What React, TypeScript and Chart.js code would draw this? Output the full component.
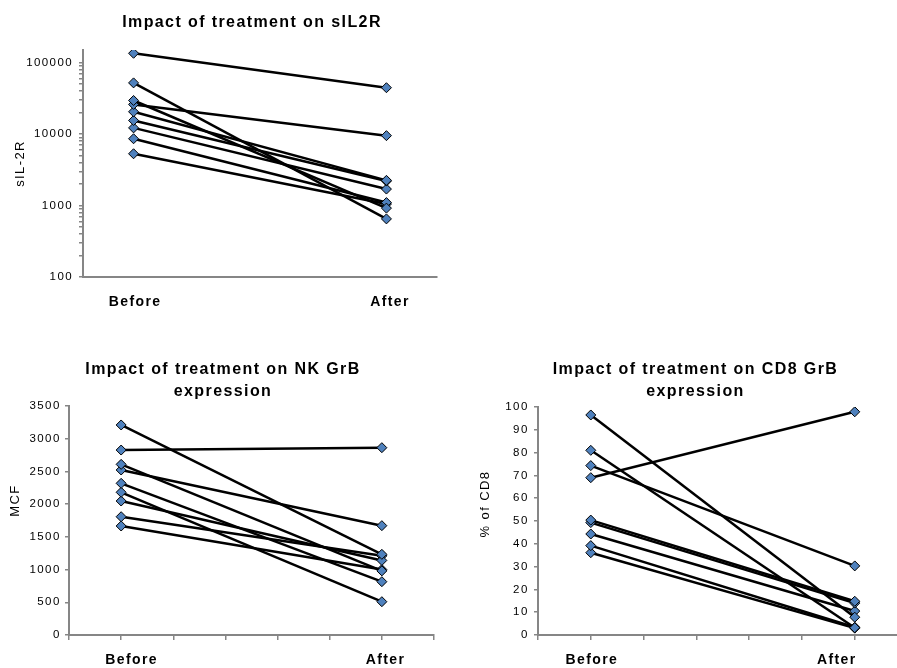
import React, { useEffect, useRef } from 'react';
import { Chart, registerables } from 'chart.js';

Chart.register(...registerables);

// ---------- data ----------
const categories = ['Before', 'After'];
const categoryX = [1, 6];

const sil2rBefore = [135000, 52000, 29500, 26000, 20500, 15500, 12200, 8600, 5300];
const sil2rAfter = [44500, 650, 920, 9500, 2250, 2200, 1700, 1100, 1050];

const nkBefore = [3210, 2827, 2608, 2522, 2318, 2181, 2048, 1808, 1666];
const nkAfter = [1233, 2863, 980, 1671, 815, 509, 1140, 1210, 1000];

const cd8Before = [96.5, 81, 74.3, 69, 50.4, 49.3, 44.3, 39.2, 36.1];
const cd8After = [7.8, 3.2, 30.3, 97.9, 14.8, 14, 10.5, 3.4, 3.0];

const sil2rMajorTicks = [100, 1000, 10000, 100000];
const sil2rMinorFactors = [1, 2, 3, 4, 5, 6, 7, 8, 9];
const nkTicks = [0, 500, 1000, 1500, 2000, 2500, 3000, 3500];
const cd8Ticks = [0, 10, 20, 30, 40, 50, 60, 70, 80, 90, 100];

// ---------- style ----------
const FONT = '"Liberation Sans", Arial, Helvetica, sans-serif';
const AXIS_GRAY = '#868686';
const MARKER_BLUE = '#4F81BD';

const spacingPlugin = {
  id: 'letterSpacingFix',
  beforeUpdate(chart: any) { chart.ctx.letterSpacing = '1.4px'; },
  beforeLayout(chart: any) { chart.ctx.letterSpacing = '1.4px'; },
  beforeDraw(chart: any) { chart.ctx.letterSpacing = '1.4px'; },
};

const yTitlePlugin = {
  id: 'yTitle',
  afterDraw(chart: any, _args: any, opts: any) {
    const { ctx, chartArea } = chart;
    ctx.save();
    ctx.font = `13px ${FONT}`;
    ctx.fillStyle = '#000';
    ctx.textAlign = 'center';
    ctx.textBaseline = 'middle';
    ctx.translate(opts.x, (chartArea.top + chartArea.bottom) / 2 + opts.dy);
    ctx.rotate(-Math.PI / 2);
    ctx.fillText(opts.text, 0, 0);
    ctx.restore();
  },
};

type Spec = {
  left: number; top: number; w: number; h: number;
  title: string | string[];
  titlePad: { top: number; bottom: number };
  yWidth: number; rightGap: number; xHeight: number;
  yType: 'linear' | 'logarithmic';
  yMin: number; yMax: number;
  yTicks: number[];
  yLabels: number[];
  yPad: number;
  xMax: number;
  xLabelPos: number[];
  showXTicks: boolean;
  yTitle: { text: string; x: number; dy: number };
  before: number[]; after: number[];
};

function buildLogTicks(): number[] {
  const out: number[] = [];
  sil2rMajorTicks.forEach((d) => sil2rMinorFactors.forEach((f) => out.push(d * f)));
  return out;
}

function makeChart(canvas: HTMLCanvasElement, s: Spec) {
  const datasets = s.before.map((b, i) => ({
    label: `Patient ${i + 1}`,
    data: [
      { x: categoryX[0], y: b },
      { x: categoryX[1], y: s.after[i] },
    ],
    borderColor: '#000',
    borderWidth: 2.5,
    backgroundColor: MARKER_BLUE,
    pointStyle: 'rectRot',
    pointRadius: 5,
    pointHoverRadius: 5,
    pointBackgroundColor: MARKER_BLUE,
    pointBorderColor: '#000',
    pointBorderWidth: 1,
    fill: false,
    tension: 0,
  }));

  const intTicks: number[] = [];
  for (let v = 0; v <= s.xMax + 1e-9; v++) intTicks.push(v);
  const xTickValues = [...intTicks, ...s.xLabelPos].sort((a, b) => a - b);
  const labelFor = (v: number) => {
    const idx = s.xLabelPos.findIndex((p) => Math.abs(p - v) < 1e-6);
    return idx >= 0 ? categories[idx] : '';
  };
  const isLabelTick = (v: number) => s.xLabelPos.some((p) => Math.abs(p - v) < 1e-6);

  return new Chart(canvas, {
    type: 'line',
    data: { datasets } as any,
    plugins: [spacingPlugin, yTitlePlugin],
    options: {
      responsive: false,
      animation: false,
      events: [],
      layout: { padding: 0 },
      plugins: {
        legend: { display: false },
        tooltip: { enabled: false },
        title: {
          display: true,
          text: s.title,
          color: '#000',
          font: { family: FONT, size: 16, weight: 'bold', lineHeight: Array.isArray(s.title) ? 1.375 : 1.2 },
          padding: s.titlePad,
        },
        yTitle: s.yTitle,
      } as any,
      scales: {
        x: {
          type: 'linear',
          min: 0,
          max: s.xMax,
          afterBuildTicks: (scale: any) => {
            scale.ticks = xTickValues.map((v) => ({ value: v }));
          },
          afterFit: (scale: any) => { scale.height = s.xHeight; },
          ticks: {
            autoSkip: false,
            maxRotation: 0,
            minRotation: 0,
            padding: 12,
            color: '#000',
            font: { family: FONT, size: 14, weight: 'bold' },
            callback: (v: any) => labelFor(Number(v)),
          },
          grid: {
            display: true,
            drawOnChartArea: false,
            drawTicks: true,
            tickLength: 5,
            lineWidth: 1.5,
            color: AXIS_GRAY,
            tickColor: (ctx: any) =>
              !s.showXTicks || (ctx.tick && isLabelTick(ctx.tick.value)) ? 'rgba(0,0,0,0)' : AXIS_GRAY,
          },
          border: { display: true, color: AXIS_GRAY, width: 2 },
        },
        y: {
          type: s.yType,
          position: 'left',
          min: s.yMin,
          max: s.yMax,
          afterBuildTicks: (scale: any) => {
            scale.ticks = s.yTicks.filter((v) => v >= s.yMin && v <= s.yMax).map((v) => ({ value: v }));
          },
          afterFit: (scale: any) => { scale.width = s.yWidth; },
          ticks: {
            autoSkip: false,
            padding: s.yPad,
            color: '#000',
            font: { family: FONT, size: 11.5 },
            callback: (v: any) => (s.yLabels.includes(Number(v)) ? String(v) : ''),
          },
          grid: {
            display: true,
            drawOnChartArea: false,
            drawTicks: true,
            tickLength: 4,
            lineWidth: 1.5,
            color: AXIS_GRAY,
            tickColor: AXIS_GRAY,
          },
          border: { display: true, color: AXIS_GRAY, width: 2 },
        },
        // empty spacer on the right so the title centres like the original
        spacer: {
          type: 'linear',
          position: 'right',
          display: true,
          afterFit: (scale: any) => { scale.width = s.rightGap; },
          ticks: { display: false },
          grid: { display: false },
          border: { display: false },
        },
      } as any,
    },
  } as any);
}

const specs: Spec[] = [
  {
    left: 0, top: 0, w: 504, h: 320,
    title: 'Impact of treatment on sIL2R',
    titlePad: { top: 13, bottom: 17.8 },
    yWidth: 83, rightGap: 67, xHeight: 43,
    yType: 'logarithmic', yMin: 100, yMax: 150000,
    yTicks: buildLogTicks(), yLabels: sil2rMajorTicks, yPad: 6,
    xMax: 7, xLabelPos: [1.03, 6.07], showXTicks: false,
    yTitle: { text: 'sIL-2R', x: 20, dy: 0 },
    before: sil2rBefore, after: sil2rAfter,
  },
  {
    left: 0, top: 320, w: 446, h: 348,
    title: ['Impact of treatment on NK GrB', 'expression'],
    titlePad: { top: 39, bottom: 3 },
    yWidth: 69, rightGap: 9, xHeight: 33,
    yType: 'linear', yMin: 0, yMax: 3500,
    yTicks: nkTicks, yLabels: nkTicks, yPad: 4.3,
    xMax: 7, xLabelPos: [1.2, 6.07], showXTicks: true,
    yTitle: { text: 'MCF', x: 15, dy: -20 },
    before: nkBefore, after: nkAfter,
  },
  {
    left: 450, top: 320, w: 491, h: 348,
    title: ['Impact of treatment on CD8 GrB', 'expression'],
    titlePad: { top: 39, bottom: 4 },
    yWidth: 88, rightGap: 44, xHeight: 33,
    yType: 'linear', yMin: 0, yMax: 100,
    yTicks: cd8Ticks, yLabels: cd8Ticks, yPad: 5.3,
    xMax: 6.8, xLabelPos: [1.02, 5.66], showXTicks: true,
    yTitle: { text: '% of CD8', x: 35, dy: -17 },
    before: cd8Before, after: cd8After,
  },
];

function ChartBox({ spec }: { spec: Spec }) {
  const ref = useRef<HTMLCanvasElement>(null);
  useEffect(() => {
    const chart = makeChart(ref.current as HTMLCanvasElement, spec);
    return () => chart.destroy();
  }, [spec]);
  return (
    <canvas
      ref={ref}
      width={spec.w}
      height={spec.h}
      style={{ position: 'absolute', left: spec.left, top: spec.top, width: spec.w, height: spec.h }}
    />
  );
}

export default function App() {
  return (
    <div
      style={{
        position: 'absolute',
        left: 0,
        top: 0,
        width: 897,
        height: 668,
        overflow: 'hidden',
        background: '#fff',
      }}
    >
      {specs.map((s, i) => (
        <ChartBox key={i} spec={s} />
      ))}
    </div>
  );
}
